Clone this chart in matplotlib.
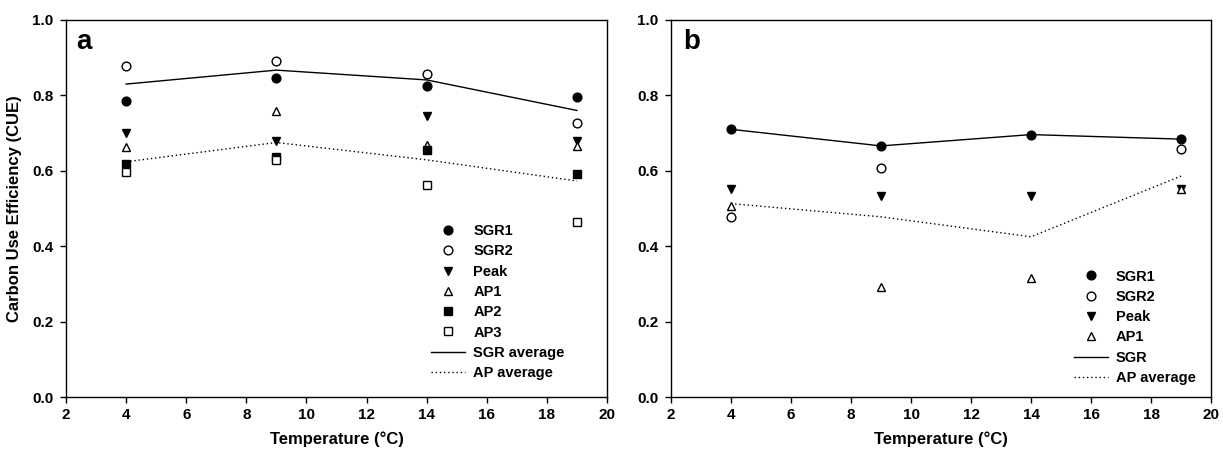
import matplotlib
matplotlib.use("Agg")
import matplotlib.pyplot as plt
from matplotlib.lines import Line2D

plt.rcParams['font.family'] = ['Liberation Sans', 'DejaVu Sans']
plt.rcParams['font.weight'] = 'bold'

temps = [4, 9, 14, 19]

# panel a
a_sgr1 = [0.784, 0.845, 0.824, 0.795]
a_sgr2 = [0.878, 0.892, 0.857, 0.727]
a_peak = [0.700, 0.680, 0.745, 0.680]
a_ap1 = [0.663, 0.759, 0.669, 0.667]
a_ap2 = [0.618, 0.637, 0.655, 0.591]
a_ap3 = [0.597, 0.629, 0.561, 0.464]
a_sgr_avg = [0.830, 0.867, 0.841, 0.760]
a_ap_avg = [0.624, 0.675, 0.629, 0.573]

# panel b
b_sgr1 = [0.710, 0.666, 0.696, 0.684]
b_sgr2 = [0.478, 0.608, None, 0.658]
b_peak = [0.551, 0.533, 0.533, 0.553]
b_ap1 = [0.507, 0.293, 0.316, 0.553]
b_sgr = [0.710, 0.666, 0.696, 0.684]
b_ap_avg = [0.513, 0.478, 0.425, 0.586]

ms = 6.3
styles = {
    'SGR1': dict(marker='o', mfc='black', mec='black'),
    'SGR2': dict(marker='o', mfc='white', mec='black'),
    'Peak': dict(marker='v', mfc='black', mec='black'),
    'AP1': dict(marker='^', mfc='white', mec='black'),
    'AP2': dict(marker='s', mfc='black', mec='black'),
    'AP3': dict(marker='s', mfc='white', mec='black'),
}
dotted = (0, (1, 2))


def pts(ax, ys, name):
    xs = [t for t, y in zip(temps, ys) if y is not None]
    vs = [y for y in ys if y is not None]
    ax.plot(xs, vs, ls='none', ms=ms, mew=1.0, zorder=3, **styles[name])


def style_axes(ax):
    ax.set_xlim(2, 20)
    ax.set_ylim(0, 1.0)
    ax.set_xticks(range(2, 21, 2))
    ax.set_yticks([0.0, 0.2, 0.4, 0.6, 0.8, 1.0])
    ax.set_yticklabels(['0.0', '0.2', '0.4', '0.6', '0.8', '1.0'])
    ax.tick_params(direction='out', length=4.5, width=1, labelsize=11)
    ax.tick_params(axis='x', pad=3.5)
    ax.tick_params(axis='y', pad=4.5)
    for s in ax.spines.values():
        s.set_linewidth(1.0)
    ax.set_xlabel('Temperature (°C)', fontsize=12, fontweight='bold', labelpad=7)


def make_legend(ax, handles, labels, x0, y0):
    ax.legend(handles, labels, loc='lower left', bbox_to_anchor=(x0, y0),
              frameon=False, fontsize=10.5, handlelength=2.33, handletextpad=0.55,
              labelspacing=0.43, borderpad=0, borderaxespad=0)


fig = plt.figure(figsize=(12.23, 4.51), dpi=100)
ax1 = fig.add_axes([0.05397, 0.1197, 0.44236, 0.836])
ax2 = fig.add_axes([0.54865, 0.1197, 0.44154, 0.836])

# panel a
ax1.plot(temps, a_sgr_avg, color='black', lw=1.0, zorder=2)
ax1.plot(temps, a_ap_avg, color='black', lw=1.0, ls=dotted, zorder=2)
for ys, name in [(a_sgr1, 'SGR1'), (a_sgr2, 'SGR2'), (a_peak, 'Peak'),
                 (a_ap1, 'AP1'), (a_ap2, 'AP2'), (a_ap3, 'AP3')]:
    pts(ax1, ys, name)
style_axes(ax1)
ax1.set_ylabel('Carbon Use Efficiency (CUE)', fontsize=12, fontweight='bold')
ax1.yaxis.set_label_coords(-0.081, 0.5)
ax1.text(0.0185, 0.975, 'a', transform=ax1.transAxes, fontsize=20, fontweight='bold',
         va='top', ha='left')

handles_a = [Line2D([], [], ls='none', ms=ms, mew=1.0, **styles[n]) for n in
             ['SGR1', 'SGR2', 'Peak', 'AP1', 'AP2', 'AP3']]
handles_a += [Line2D([], [], color='black', lw=1.0),
              Line2D([], [], color='black', lw=1.0, ls=dotted)]
labels_a = ['SGR1', 'SGR2', 'Peak', 'AP1', 'AP2', 'AP3', 'SGR average', 'AP average']
make_legend(ax1, handles_a, labels_a, 0.675, 0.045)

# panel b
ax2.plot(temps, b_sgr, color='black', lw=1.0, zorder=2)
ax2.plot(temps, b_ap_avg, color='black', lw=1.0, ls=dotted, zorder=2)
for ys, name in [(b_sgr1, 'SGR1'), (b_sgr2, 'SGR2'), (b_peak, 'Peak'), (b_ap1, 'AP1')]:
    pts(ax2, ys, name)
style_axes(ax2)
ax2.text(0.022, 0.975, 'b', transform=ax2.transAxes, fontsize=20, fontweight='bold',
         va='top', ha='left')

handles_b = [Line2D([], [], ls='none', ms=ms, mew=1.0, **styles[n]) for n in
             ['SGR1', 'SGR2', 'Peak', 'AP1']]
handles_b += [Line2D([], [], color='black', lw=1.0),
              Line2D([], [], color='black', lw=1.0, ls=dotted)]
labels_b = ['SGR1', 'SGR2', 'Peak', 'AP1', 'SGR', 'AP average']
make_legend(ax2, handles_b, labels_b, 0.746, 0.032)

fig.savefig('out.png', dpi=100)
